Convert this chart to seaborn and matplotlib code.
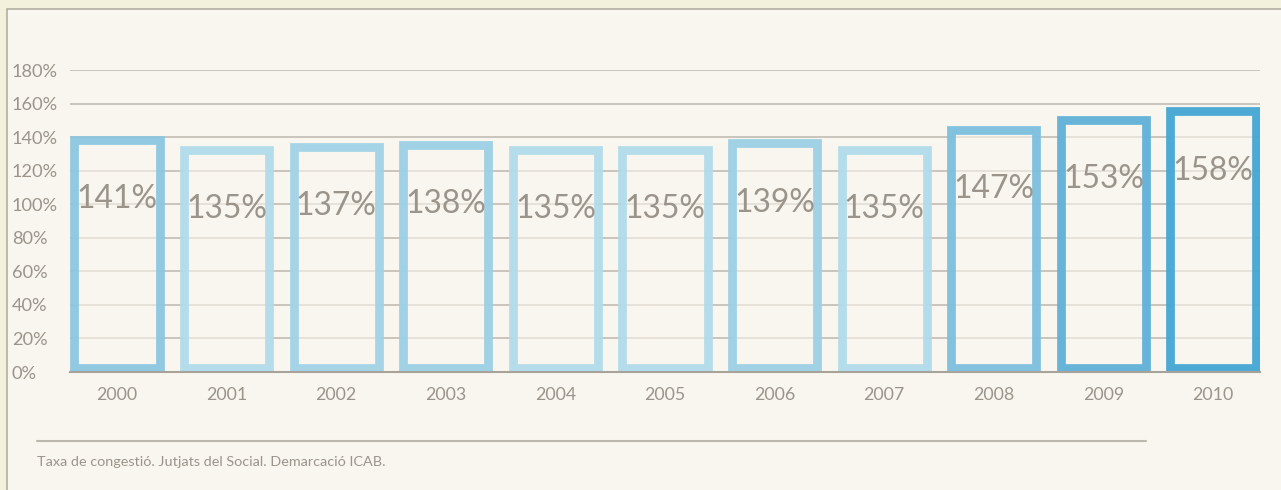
import numpy as np
import matplotlib
matplotlib.use('Agg')
import matplotlib.pyplot as plt
from matplotlib.patches import Rectangle
from matplotlib import font_manager
import seaborn as sns

#Data
years = ['2000', '2001', '2002', '2003', '2004', '2005', '2006', '2007', '2008', '2009', '2010']
values = [141, 135, 137, 138, 135, 135, 139, 135, 147, 153, 158]
bar_colors = ['#8CC7E1', '#B2DBEA', '#A2D3E7', '#9BCFE4', '#B2DBEA', '#B2DBEA',
              '#9BCFE4', '#B2DBEA', '#7CC0DF', '#60B1D8', '#44A6D3']
yticks = [0, 20, 40, 60, 80, 100, 120, 140, 160, 180]
caption = 'Taxa de congestió. Jutjats del Social. Demarcació ICAB.'

outer_bg = '#F3F0DC'
panel_bg = '#F9F6EF'
text_grey = '#9A948B'
grid_grey = '#C6C1B8'

sns.set_style('white')
names = {f.name for f in font_manager.fontManager.ttflist}
narrow = 'Liberation Sans Narrow' in names
plt.rcParams['font.family'] = ['Liberation Sans Narrow' if narrow else 'Lato', 'DejaVu Sans']
scale = 1.0 if narrow else 0.85

W, H = 1281, 490
fig = plt.figure(figsize=(W / 100, H / 100), dpi=100)
fig.patch.set_facecolor(outer_bg)

#Panel behind the chart
panel = Rectangle((7 / W, -0.1), 1.2, 1 - 9 / H + 0.1, transform=fig.transFigure,
                  facecolor=panel_bg, edgecolor='#B3AEA4', linewidth=1.2, zorder=-5)
fig.patches.append(panel)

ax = fig.add_axes([70 / W, 1 - 372 / H, (1260 - 70) / W, (372 - 70) / H])
ax.set_facecolor('none')

bw = 0.857
sns.barplot(x=years, y=values, hue=years, palette=bar_colors, legend=False,
            width=bw, fill=False, linewidth=6.3, ax=ax, zorder=3)

ax.set_xlim(-bw / 2, len(years) - 1 + bw / 2)
ax.set_ylim(0, 180)

#Keep the stroke inside each rectangle
px_x = (ax.get_xlim()[1] - ax.get_xlim()[0]) / (1260 - 70)
px_y = 180 / (372 - 70)
half = 4.4
for p, c in zip(ax.patches, bar_colors):
    p.set_x(p.get_x() + half * px_x)
    p.set_width(p.get_width() - 2 * half * px_x)
    p.set_y(half * px_y)
    p.set_height(p.get_height() - 2 * half * px_y)
    p.set_edgecolor(matplotlib.colors.to_rgba(c, 0.95))
    p.set_facecolor(matplotlib.colors.to_rgba(panel_bg, 0.6))

#Gridlines
for t in yticks[1:]:
    ax.axhline(t, color=grid_grey, linewidth=1.3, zorder=1)

#Value labels
for i, v in enumerate(values):
    ax.annotate(f'{v}%', (i, v), xytext=(0, -46), textcoords='offset points',
                ha='center', va='center', fontsize=27 * scale, color=text_grey,
                zorder=5)

ax.set_yticks(yticks)
ax.set_yticklabels([f'{t}%' for t in yticks])
ax.tick_params(axis='y', length=0, pad=41.8, labelsize=15.5 * scale, labelcolor=text_grey)
for lab in ax.get_yticklabels():
    lab.set_horizontalalignment('left')
ax.tick_params(axis='x', length=0, pad=11, labelsize=15 * scale, labelcolor=text_grey)
ax.set_xlabel('')
ax.set_ylabel('')

for s in ['top', 'right', 'left']:
    ax.spines[s].set_visible(False)
ax.spines['bottom'].set_color('#A8A39A')
ax.spines['bottom'].set_linewidth(1.5)
ax.spines['bottom'].set_zorder(4)

#Caption and its rule
fig.add_artist(plt.Line2D([37 / W, 1146 / W], [1 - 441 / H, 1 - 441 / H],
                          transform=fig.transFigure, color='#BDB8AE', linewidth=1.5))
fig.text(37 / W, 1 - 462 / H, caption, ha='left', va='center', fontsize=12.2 * scale,
         color=text_grey)

fig.savefig('out.png', dpi=100, facecolor=fig.get_facecolor())
